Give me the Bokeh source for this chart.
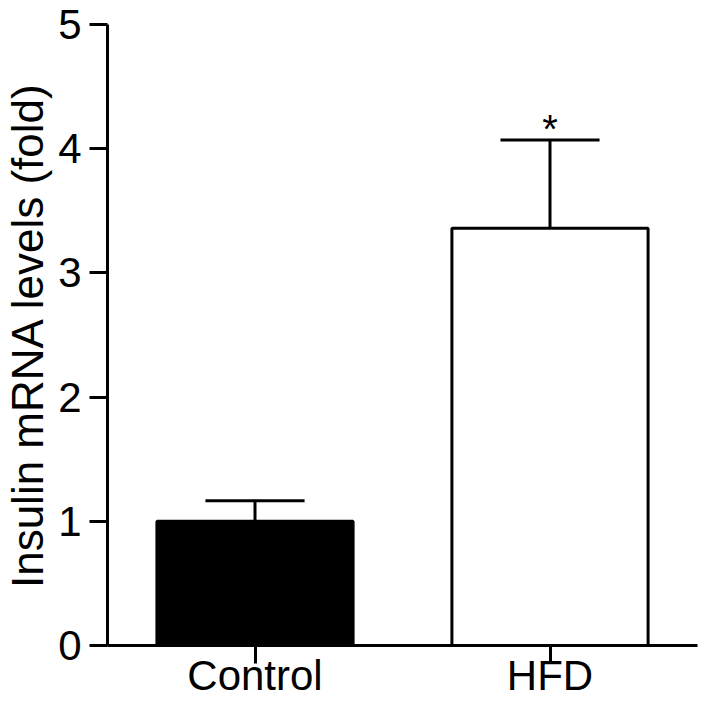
from bokeh.plotting import figure
from bokeh.models import Range1d, FixedTicker, ColumnDataSource
from bokeh.embed import file_html
from bokeh.resources import INLINE
from bokeh.core.properties import value

categories = ["Control", "HFD"]
means = [1.0, 3.36]
upper = [1.165, 4.07]
signif = ["", "*"]
y_ticks = [0, 1, 2, 3, 4, 5]

fills = ["#000000", "#ffffff"]
xs = [i + 0.5 for i in range(len(categories))]
bar_w = 0.665
cap_half = 0.168

FONT = "Liberation Sans"

p = figure(width=700, height=701, output_backend="svg", toolbar_location=None,
           x_range=Range1d(0, 2), y_range=Range1d(0, 5),
           min_border_left=102, min_border_right=3, min_border_top=24, min_border_bottom=50)
p.outline_line_color = None
p.xgrid.visible = False
p.ygrid.visible = False
p.background_fill_color = "white"
p.border_fill_color = "white"

src = ColumnDataSource(dict(x=xs, top=means, up=upper, fill=fills,
                            x0=[x - cap_half for x in xs], x1=[x + cap_half for x in xs],
                            sig=signif))

p.vbar(x="x", top="top", bottom=0, width=bar_w, fill_color="fill",
       line_color="black", line_width=3, source=src)
p.segment(x0="x", y0="top", x1="x", y1="up", line_color="black", line_width=3, source=src)
p.segment(x0="x0", y0="up", x1="x1", y1="up", line_color="black", line_width=3, source=src)
p.text(x="x", y="up", text="sig", source=src, text_font=value(FONT), text_font_size="40px",
       text_align="center", text_baseline="alphabetic", y_offset=-11, text_color="black")

# y axis
ya = p.yaxis[0]
ya.ticker = FixedTicker(ticks=y_ticks)
ya.minor_tick_line_color = None
ya.major_tick_out = 18
ya.major_tick_in = 0
ya.axis_line_width = 3
ya.major_tick_line_width = 3
ya.major_label_text_font = FONT
ya.major_label_text_font_size = "42px"
ya.major_label_text_color = "black"
ya.major_label_standoff = 8
ya.axis_label = "Insulin mRNA levels (fold)"
ya.axis_label_text_font = FONT
ya.axis_label_text_font_size = "44px"
ya.axis_label_text_font_style = "normal"
ya.axis_label_text_color = "black"
ya.axis_label_standoff = 3

# x axis
xa = p.xaxis[0]
xa.ticker = FixedTicker(ticks=xs)
xa.major_label_overrides = {x: c for x, c in zip(xs, categories)}
xa.minor_tick_line_color = None
xa.major_tick_out = 18
xa.major_tick_in = 0
xa.axis_line_width = 3
xa.major_tick_line_width = 3
xa.major_label_text_font = FONT
xa.major_label_text_font_size = "42px"
xa.major_label_text_color = "black"
xa.major_label_standoff = -12

open("out.html", "w").write(file_html(p, INLINE))
